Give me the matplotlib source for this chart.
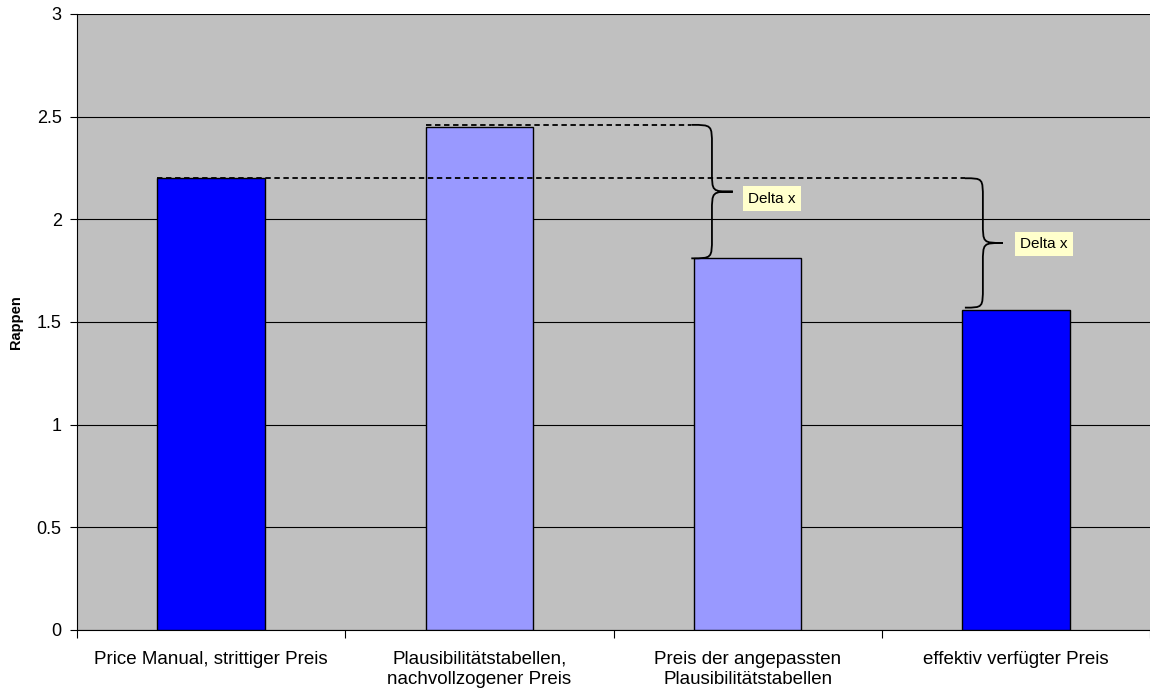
import matplotlib
matplotlib.use("Agg")
import matplotlib.pyplot as plt
from matplotlib.path import Path
from matplotlib.patches import PathPatch

plt.rcParams['font.family'] = ['Liberation Sans', 'DejaVu Sans']

# chart data
categories = ["Price Manual, strittiger Preis",
              "Plausibilitätstabellen,\nnachvollzogener Preis",
              "Preis der angepassten\nPlausibilitätstabellen",
              "effektiv verfügter Preis"]
values = [2.2, 2.45, 1.81, 1.56]
colors = ["#0000FF", "#9999FF", "#9999FF", "#0000FF"]

# annotations: dashed reference lines (x start, x end, y)
dash_lines = [(-0.2, 2.81, 2.2), (0.8, 1.79, 2.46)]
# braces: (x start, x spine, x tip, y top, y bottom, label x, label y)
braces = [(1.79, 1.867, 1.945, 2.46, 1.81, 2.09, 2.10),
          (2.81, 2.877, 2.952, 2.2, 1.57, 3.105, 1.88)]

fig = plt.figure(figsize=(11.5, 6.9), dpi=100)
ax = fig.add_axes([77/1150, 60/690, 1073/1150, 616/690])
ax.set_facecolor("#C0C0C0")

x = list(range(len(values)))
ax.bar(x, values, width=0.4, color=colors, edgecolor="black", linewidth=1, zorder=3)

ax.set_xlim(-0.5, 3.5)
ax.set_ylim(0, 3)
ax.set_yticks([0, 0.5, 1, 1.5, 2, 2.5, 3])
ax.set_yticklabels(["0", "0.5", "1", "1.5", "2", "2.5", "3"])
ax.yaxis.grid(True, color="black", linewidth=0.8, zorder=1)
ax.set_axisbelow(True)

# category labels centred under bars, ticks between categories
ax.set_xticks([-0.5, 0.5, 1.5, 2.5, 3.5])
ax.set_xticklabels([])
for i, lab in enumerate(categories):
    ax.text(i, -0.1, lab, ha="center", va="top", fontsize=13.5, linespacing=1.25)
ax.tick_params(axis="both", direction="out", length=5, width=0.8, labelsize=13, colors="black")
ax.tick_params(axis="y", pad=6)
ax.tick_params(axis="x", length=6)

for s in ["top", "right"]:
    ax.spines[s].set_visible(False)
ax.spines["left"].set_color("black")
ax.spines["bottom"].set_color("black")

ax.set_ylabel("Rappen", fontsize=10.5, fontweight="bold", labelpad=10)

for x0, x1, y in dash_lines:
    ax.plot([x0, x1], [y, y], color="black", linestyle=(0, (3, 2)), linewidth=1.3, zorder=4)

for x0, x1, x2, top, bot, lx, ly in braces:
    mid = (top + bot) / 2
    r = 0.1
    verts = [(x0, top), (x1, top), (x1, top), (x1, top - r),
             (x1, mid + r), (x1, mid), (x1, mid), (x2, mid),
             (x1, mid), (x1, mid), (x1, mid - r),
             (x1, bot + r), (x1, bot), (x1, bot), (x0, bot)]
    codes = [Path.MOVETO, Path.CURVE4, Path.CURVE4, Path.CURVE4,
             Path.LINETO, Path.CURVE4, Path.CURVE4, Path.CURVE4,
             Path.CURVE4, Path.CURVE4, Path.CURVE4,
             Path.LINETO, Path.CURVE4, Path.CURVE4, Path.CURVE4]
    ax.add_patch(PathPatch(Path(verts, codes), facecolor="none", edgecolor="black",
                           linewidth=1.3, zorder=4))
    ax.text(lx, ly, "Delta x", ha="center", va="center", fontsize=11, zorder=5,
            bbox=dict(boxstyle="square,pad=0.35", facecolor="#FFFFCC", edgecolor="none"))

fig.savefig("out.png", dpi=100)
